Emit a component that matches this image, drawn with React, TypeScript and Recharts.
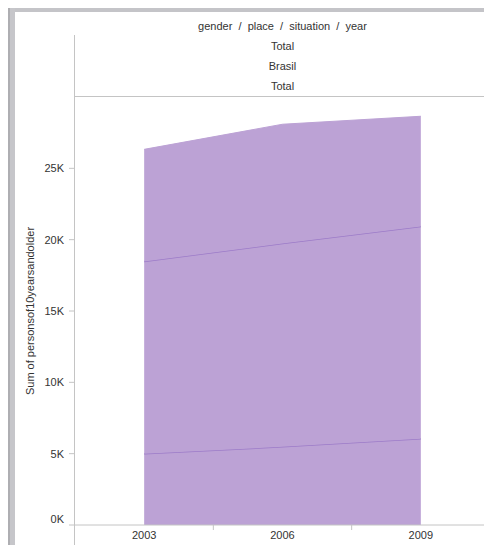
import React from 'react';
import { AreaChart, Area, XAxis, YAxis } from 'recharts';

// years shown on the x axis
const years = [2003, 2006, 2009];
// stacked layers (persons of 10 years and older)
const bottomLayer = [4990, 5480, 6040];
const middleLayer = [13480, 14250, 14890];
const topLayer = [7860, 8360, 7720];

const yTicks = [0, 5000, 10000, 15000, 20000, 25000];
// integer years get a label, half years get the band separator tick
const xTicks = [2003, 2004.5, 2006, 2007.5, 2009];

const headerRows = ['gender  /  place  /  situation  /  year', 'Total', 'Brasil', 'Total'];

const FILL = '#bca2d5';
const LINE = '#9c7bc8';
const GRID = '#c4c4c4';
const TEXT = '#333333';
const FONT = '"Liberation Sans", Arial, sans-serif';

const data = years.map((year, i) => ({
  year,
  bottom: bottomLayer[i],
  middle: middleLayer[i],
  top: topLayer[i],
}));

const XTick = (props: any) => {
  const { x, y, payload } = props;
  const v = payload.value;
  if (Number.isInteger(v)) {
    return (
      <text x={x} y={y + 14} textAnchor="middle" fontSize={11} fill={TEXT} fontFamily={FONT}>
        {v}
      </text>
    );
  }
  return <line x1={x} x2={x} y1={y} y2={y + 5} stroke={GRID} />;
};

const YTick = (props: any) => {
  const { x, y, payload } = props;
  // the zero label sits a little above its tick
  const shift = payload.value === 0 ? -6 : 0;
  return (
    <text x={x} y={y + shift + 4} textAnchor="end" fontSize={11} fill={TEXT} fontFamily={FONT}>
      {`${payload.value / 1000}K`}
    </text>
  );
};

const App = () => {
  return (
    <div style={{ position: 'relative', width: 484, height: 537, fontFamily: FONT }}>
      {/* frame */}
      <div style={{ position: 'absolute', left: 0, top: 0, width: 484, height: 4, background: '#c4c4c8' }} />
      <div style={{ position: 'absolute', left: 0, top: 0, width: 2, height: 537, background: '#aeaeb2' }} />
      <div style={{ position: 'absolute', left: 2, top: 0, width: 5, height: 537, background: '#c6c6ca' }} />

      {/* header lines */}
      <div style={{ position: 'absolute', left: 66, top: 27, width: 1, height: 510, background: GRID }} />
      <div style={{ position: 'absolute', left: 482, top: 27, width: 1, height: 510, background: GRID }} />
      <div style={{ position: 'absolute', left: 66, top: 88, width: 417, height: 1, background: GRID }} />

      {headerRows.map((row, i) => (
        <div
          key={i}
          style={{
            position: 'absolute',
            left: 67,
            width: 415,
            top: 11 + i * 20,
            textAlign: 'center',
            fontSize: 11,
            color: TEXT,
            whiteSpace: 'pre',
            lineHeight: '14px',
          }}
        >
          {row}
        </div>
      ))}

      <div style={{ position: 'absolute', left: 0, top: 0 }}>
        <AreaChart width={484} height={537} data={data} margin={{ top: 89, right: 2, bottom: 0, left: 7 }}>
          <XAxis
            dataKey="year"
            type="number"
            domain={[2001.5, 2010.5]}
            ticks={xTicks}
            tick={<XTick />}
            tickLine={false}
            tickSize={0}
            tickMargin={0}
            height={20}
            axisLine={{ stroke: GRID }}
            interval={0}
          />
          <YAxis
            width={60}
            domain={[0, 30000]}
            ticks={yTicks}
            tick={<YTick />}
            tickLine={{ stroke: GRID }}
            tickSize={6}
            tickMargin={5}
            axisLine={false}
            interval={0}
            label={{
              value: 'Sum of personsof10yearsandolder',
              angle: -90,
              position: 'center',
              dx: -15,
              style: { fontSize: 11, fill: TEXT, fontFamily: FONT },
            }}
          />
          <Area type="linear" dataKey="bottom" stackId="1" fill={FILL} fillOpacity={1} stroke={LINE} strokeWidth={1.5} isAnimationActive={false} />
          <Area type="linear" dataKey="middle" stackId="1" fill={FILL} fillOpacity={1} stroke={LINE} strokeWidth={1.5} isAnimationActive={false} />
          <Area type="linear" dataKey="top" stackId="1" fill={FILL} fillOpacity={1} stroke={FILL} isAnimationActive={false} />
        </AreaChart>
      </div>
    </div>
  );
};

export default App;
